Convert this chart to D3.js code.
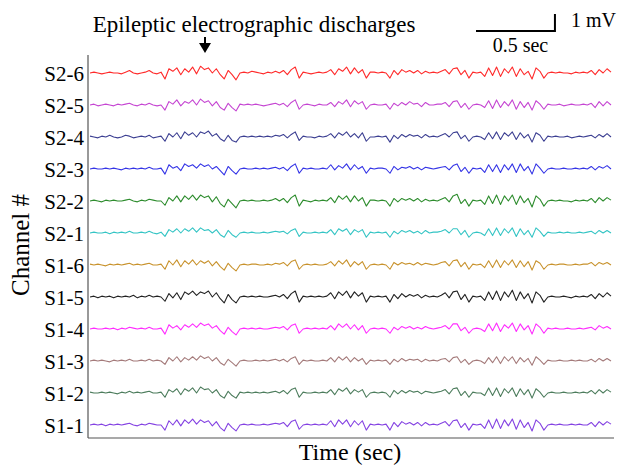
<!DOCTYPE html>
<html>
<head>
<meta charset="utf-8">
<script src="https://cdn.jsdelivr.net/npm/d3@7"></script>
<style>
  body { margin: 0; background: #fff; }
  text { font-family: "Liberation Serif", "Times New Roman", serif; fill: #000; }
</style>
</head>
<body>
<div id="chart"></div>
<script>
// channel names, top to bottom
const channels = ["S2-6", "S2-5", "S2-4", "S2-3", "S2-2", "S2-1",
                  "S1-6", "S1-5", "S1-4", "S1-3", "S1-2", "S1-1"];
const colors = ["#ff2a2a", "#c545d2", "#3c3f92", "#3434e6", "#2d8c2d", "#33c4c4",
                "#c8922c", "#222222", "#ff2cff", "#a47a7a", "#4c7c5c", "#8442e2"];

// sample spacing (sec) and trace amplitudes in units of 0.1 mV
const DT = 0.025;
const UNIT_MV = 0.1;

const s2_6 = [0,0.5,0,-0.5,0,0.5,0,0,-0.5,0.5,1.5,0,-0.5,0,0.5,1.5,0,-0.5,0.5,
  -3.5,2.5,1,3,-1,2.5,0.5,3.5,-0.5,4,2,3,0,2.5,-1,-3.5,1.5,-1,-4,0,
  0.5,0,1,0.5,0,-0.5,0.5,0,1,0, 1.5,-1,2,3.5,-3, 0.5,0,-0.5,0,0.5,0,0.5,
  2,-1,2.5,1,3.5,-0.5,3,0,2,-3,0.5, 0.5,0,0.5,0,
  -3,1.5,-1,2,0.5,1.5,0,1.5,-0.5,1,0, 0.5,0,1, 2,-0.5,2.5,3,-1,1.5,-3, 0.5,0,0.5,
  -2,3,-1.5,3.5,-2,2.5,0,3.5,-2,2.5,-1,1,-3.5,3,1,-3,
  0,0.5,0,0.5,0,0,-0.5,0.5,0,0.5,0, 1.5,-1,2,0,2.5,0.5];

const s2_5 = [0,0.5,-0.5,0,0.5,0,-0.5,0.5,0,0.5,1,0,-0.5,0.5,0,1,0,-0.5,0,
  -3,2,0.5,3,-0.5,2,1,3,0,3.5,1.5,2.5,-0.5,2,-1.5,-3,1,-1.5,-3.5,0.5,
  0,0.5,0,0.5,0,-0.5,0,0.5,1,0, 1,-1,1.5,3,-2.5, 0,0.5,0,-0.5,0.5,0,0,
  1.5,-1,2,0.5,3,-1,2.5,0.5,2,-2.5,0, 0.5,0,0,0.5,
  -2.5,1,-0.5,1.5,0,2,0.5,1,-1,1.5,0, 0,0.5,0.5, 1.5,-1,2,2.5,-1.5,1,-2.5, 0,0.5,0,
  -1.5,2.5,-2,3,-1.5,2,-0.5,3,-2.5,2,-1.5,1.5,-3,2.5,0.5,-2.5,
  0.5,0,0,0.5,-0.5,0,0.5,0,0,0.5,0, 1,-1.5,2,-0.5,2,0];

const s2_4 = [0.5,0,-0.5,0.5,0,1,0,-0.5,0,1,0.5,-0.5,0,0.5,0,1,-0.5,0,0.5,
  -2.5,2,0,2.5,-1,3,1,2.5,0,3,2,3.5,0.5,2,-1,-2.5,1,-2,-3,0,
  0.5,0,0.5,0,0.5,0,0.5,0,1,0.5, 1.5,-0.5,1.5,3,-2, 0.5,0,0,-0.5,0.5,0,0.5,
  2,-0.5,2.5,1,3,0,2,-0.5,2.5,-2.5,0, 0,0.5,0,0.5,
  -3,1,-1,1.5,0,1.5,0.5,1,-0.5,1.5,0, 0.5,0,1, 2,0,2.5,3,-1,1,-2.5, 0,0.5,0,
  -1.5,2.5,-1,3,-1.5,2.5,0.5,3,-1.5,2.5,-0.5,1.5,-3,2.5,1,-2.5,
  0.5,0,0.5,0,0,0.5,-0.5,0,0.5,0,0.5, 1,-0.5,1.5,0,2,0];

const s2_3 = [0,0.5,0,0,0.5,0,0.5,0,-0.5,0.5,0,0.5,0,0.5,0,1,0,0,0.5,
  -3,2.5,0.5,1.5,-1,3,1.5,2.5,0.5,3,1.5,2.5,0,1.5,-1,-3.5,1.5,-1,-3,0,
  0.5,0,0,0.5,0,0.5,0,0.5,1,0, 1,-1,1.5,3,-2.5, 0.5,0,0.5,0,0,0.5,0,
  2.5,-0.5,2,0.5,3,-0.5,2.5,0,1.5,-2.5,0.5, 0,0.5,0.5,0,
  -2.5,1.5,-0.5,1,0.5,1.5,0,1,-0.5,1,0.5, 0,0.5,1, 1.5,-0.5,2,3,-1.5,1,-2.5, 0.5,0,0.5,
  -2,2.5,-1.5,2.5,-2,2.5,-0.5,3,-2,3,-1,1.5,-3,3,0.5,-2.5,
  0,0.5,0,0,0.5,0,0,0.5,0,0.5,0, 1.5,-0.5,1.5,0.5,2,0];

const s2_2 = [0,0.5,0,-0.5,0.5,0,0.5,0,0,0.5,1,0,-0.5,0.5,0,1,0.5,0,0,
  -2.5,2,0,3,-0.5,3,1,3.5,0.5,3.5,2,3,-0.5,2.5,-1.5,-3.5,1,-1.5,-4,0,
  0.5,0,0.5,0,0,0.5,0,0.5,1.5,0, 1.5,-1,2,3.5,-3, 0.5,0,-0.5,0.5,0,0.5,0,
  2,-1,3,1,3,-0.5,3,0,2,-3,0.5, 0.5,0,0.5,0,
  -3,1.5,-0.5,1.5,0.5,1.5,0,1.5,-0.5,1,0, 0.5,0,1, 2,-0.5,3,4,-1.5,1,-3, 0.5,0,0.5,
  -2,3,-1.5,3.5,-2,3,0,3.5,-2,3,-1,1.5,-3.5,3,1,-3,
  0,0.5,0,0.5,0,0,-0.5,0.5,0,0.5,0, 1.5,-1,2,0,2,0.5];

const s2_1 = [0,0.5,0,0,0.5,-0.5,0.5,0,0.5,0,1,0,0,0.5,0,1,0,-0.5,0.5,
  -2,2,0.5,2.5,0,2.5,1,3,0.5,3,1.5,2,0,2,-1,-2.5,1.5,-1,-2.5,0,
  0.5,0,0.5,0,0,0.5,0,0.5,1,0.5, 1,-0.5,1.5,2.5,-2, 0.5,0,0,0.5,0,0.5,0,
  2,-1,2.5,1,2.5,-1,2,0.5,2,-2.5,0.5, 0,0.5,0,0.5,
  -2.5,1,-0.5,1.5,0.5,1.5,0,1,-0.5,1.5,0, 0.5,0.5,1, 2,0,2.5,2.5,-1,1.5,-2.5, 0,0.5,0,
  -1.5,2.5,-1.5,3,-1.5,2.5,0,3,-2,2.5,-1,1.5,-2.5,3,1,-2,
  0.5,0,0,0.5,0,0.5,0,0,0.5,0,0.5, 1,-0.5,1.5,0,1.5,0];

const s1_6 = [0.5,0,0.5,0,-0.5,0.5,0,0.5,0,0.5,1,0,0.5,0,0.5,1,0,0,0.5,
  -2.5,2.5,0,3,-1,2.5,0.5,3,0,2.5,1,2.5,-0.5,2,-1,-3,1,-1.5,-3.5,0,
  0.5,0,0.5,0.5,0,0,0.5,0,1,0.5, 1.5,-0.5,2,3,-2.5, 0,0.5,0,0.5,0,0,0.5,
  2,-0.5,2.5,0.5,3,-1,2,0,2,-2.5,0, 0.5,0,0.5,0,
  -2.5,1.5,0,1.5,0.5,1,0,1.5,0,1,0.5, 0,0.5,1.5, 2,-0.5,2.5,3,-1,1.5,-2.5, 0.5,0,0.5,
  -1.5,2.5,-1.5,3,-1.5,2.5,0,3,-1.5,2.5,-1,2,-3,2.5,1,-2.5,
  0,0.5,0,0.5,0.5,0,0,0.5,0,0.5,0.5, 1.5,-0.5,1.5,0.5,1.5,0];

const s1_5 = [0,0.5,-0.5,0.5,0,0.5,-0.5,0.5,0,0.5,0,1,-0.5,0.5,0,1,0,0.5,0,
  -2.5,2,-0.5,2.5,-1.5,3,1.5,3.5,1,3,2,3.5,0,2.5,-1,-3.5,1.5,-1.5,-3.5,0,
  0.5,0,0.5,0,0.5,0,0,0.5,1,0, 1.5,-1,2,3.5,-3, 0.5,0,0.5,0,0.5,0,0.5,
  2.5,-1,3,1,3.5,-0.5,3,0.5,2.5,-3,0.5, 0,0.5,0,0.5,
  -3,1.5,-1,2,0,1.5,0.5,1.5,-0.5,1,0, 0.5,0,1, 2.5,-0.5,3,3.5,-1.5,1.5,-3, 0.5,0,0.5,
  -2,3,-1.5,3.5,-2,3,0,4,-2,3,-1,2,-3.5,3,1,-3,
  0,0.5,0,0,0.5,0,-0.5,0.5,0,0.5,0, 1.5,-1,2,0,2.5,0.5];

const s1_4 = [0,0.5,0,0,0.5,0,0.5,-0.5,0.5,0,1,0.5,0,0.5,0,1,0,0,0.5,
  -3,2.5,0.5,2,-0.5,2.5,1,3,1,3.5,2,3,0.5,2,-1,-3,1,-1.5,-3.5,0,
  0.5,0,0.5,0,0.5,0,0,0.5,1,0.5, 1.5,-0.5,2,3,-2.5, 0,0.5,0,0.5,0,0.5,0,
  2,-0.5,3,1,3,0,2.5,-0.5,2,-2.5,0, 0.5,0,0.5,0,
  -2.5,1,-0.5,1.5,0.5,1.5,0,1,0,1.5,0.5, 0,0.5,1, 2,0,3,3,-1,1,-2.5, 0,0.5,0,
  -1.5,3,-1,3.5,-1.5,2.5,0.5,3.5,-1.5,3,-0.5,2,-3,3,1,-2.5,
  0.5,0,0.5,0,0,0.5,0,0,0.5,0,0.5, 1,-0.5,2,0.5,1.5,0];

const s1_3 = [0,0.5,0,0.5,0,-0.5,0.5,0,0.5,0,1,0,0,0.5,0,1,0,0.5,0,
  -2,2,0,2.5,-0.5,2,0.5,2.5,0.5,3,1.5,2.5,0,2,-1,-2.5,1,-1,-3,0,
  0.5,0,0,0.5,0,0.5,0,0.5,1,0, 1,-0.5,1.5,2.5,-2, 0.5,0,0.5,0,0,0.5,0,
  2,-0.5,2.5,0.5,2.5,-0.5,2,0,1.5,-2,0.5, 0,0.5,0,0.5,
  -2,1,-0.5,1.5,0,1,0.5,1,-0.5,1,0, 0.5,0,1, 1.5,-0.5,2,2.5,-1,1,-2, 0,0.5,0,
  -1.5,2,-1,2.5,-1.5,2.5,0,2.5,-1.5,2,-0.5,1.5,-2.5,2.5,0.5,-2,
  0.5,0,0,0.5,0,0,0.5,0,0.5,0,0, 1,-0.5,1.5,0,1.5,0];

const s1_2 = [0.5,0,0,0.5,0,0.5,0,-0.5,0.5,0,1,0,0.5,0,0.5,1,0,0,0.5,
  -2.5,2,0.5,2.5,-1,2.5,1,3,0,3.5,2,2.5,0,2,-1.5,-3,1,-1.5,-3,0.5,
  0,0.5,0,0.5,0,0.5,0,0.5,1,0, 1.5,-0.5,2,3,-2.5, 0.5,0,0,0.5,0,0.5,0,
  2,-1,2.5,1,3,-0.5,2,0.5,2,-2.5,0, 0.5,0,0.5,0,
  -2.5,1.5,-0.5,1.5,0,1.5,0.5,1,-0.5,1,0.5, 0,0.5,1, 2,-0.5,2.5,3,-1.5,1,-2.5, 0.5,0,0,
  -1.5,3,-1.5,3,-2,2.5,0,3,-2,2.5,-1,2,-3,2.5,0.5,-2.5,
  0,0.5,0,0,0.5,0,0,0.5,0,0.5,0, 1.5,-0.5,2,0,2,0.5];

const s1_1 = [0,0.5,0,0.5,-0.5,0.5,0,0.5,0,0.5,1,0,-0.5,0.5,0,1,0.5,0,0,
  -3,2.5,0,3,-0.5,3,1,3.5,0.5,3,1.5,2.5,-0.5,2,-1.5,-3.5,1,-1.5,-3.5,0,
  0.5,0,0.5,0,0,0.5,0,0.5,1,0.5, 1.5,-1,2,3,-2.5, 0,0.5,0,0.5,0,0.5,0,
  2.5,-1,3,0.5,3,-1,2.5,0,2.5,-3,0.5, 0,0.5,0,0.5,
  -3,1.5,-1,2,0.5,1.5,0,1.5,-0.5,1.5,0, 0.5,0,1, 2,-0.5,2.5,3,-1.5,1,-3, 0.5,0,0.5,
  -2,3,-2,3.5,-2,3,-0.5,3.5,-2.5,3,-1.5,1.5,-3.5,3,1,-3,
  0,0.5,0,0.5,0,0,0.5,0,0.5,0,0, 1.5,-1,2,0,2,0.5];

const traces = [s2_6, s2_5, s2_4, s2_3, s2_2, s2_1, s1_6, s1_5, s1_4, s1_3, s1_2, s1_1];

// scale bar values
const scaleBarSec = 0.5;
const scaleBarMv = 1;

const width = 622, height = 468;
const serif = "'Liberation Serif', 'Times New Roman', serif";

const svg = d3.select("#chart")
  .append("svg")
  .attr("width", width)
  .attr("height", height);

// time axis (sec) and channel positions
const x = d3.scaleLinear().domain([0, 3.3]).range([90, 611]);
const y = d3.scalePoint().domain(channels).range([73, 425]);
// amplitude in mV -> pixel offset from channel baseline
const amp = d3.scaleLinear().domain([-1, 1]).range([17, -17]);

// frame: left and bottom lines
svg.append("line")
  .attr("x1", 88).attr("x2", 88).attr("y1", 55).attr("y2", 438)
  .attr("stroke", "#555").attr("stroke-width", 1.2);
svg.append("line")
  .attr("x1", 88).attr("x2", 614).attr("y1", 438).attr("y2", 438)
  .attr("stroke", "#555").attr("stroke-width", 1.2);

// channel labels
const yAxis = svg.append("g")
  .attr("transform", "translate(86,0)")
  .call(d3.axisLeft(y).tickSize(0).tickPadding(2));
yAxis.select(".domain").remove();
yAxis.selectAll("text")
  .style("font-family", serif)
  .style("font-size", "21px")
  .attr("fill", "#000")
  .attr("dy", "0.35em");

// traces
const line = d3.line()
  .x((d, i) => x(i * DT))
  .y(d => amp(d * UNIT_MV));

channels.forEach((ch, k) => {
  svg.append("path")
    .datum(traces[k])
    .attr("transform", `translate(0,${y(ch)})`)
    .attr("fill", "none")
    .attr("stroke", colors[k])
    .attr("stroke-width", 1.1)
    .attr("stroke-linejoin", "round")
    .attr("d", line);
});

// axis titles
svg.append("text")
  .attr("x", 350).attr("y", 460)
  .attr("text-anchor", "middle")
  .style("font-family", serif)
  .style("font-size", "24px")
  .text("Time (sec)");

svg.append("text")
  .attr("transform", "translate(29,245) rotate(-90)")
  .attr("text-anchor", "middle")
  .style("font-family", serif)
  .style("font-size", "25px")
  .text("Channel #");

// annotation
svg.append("text")
  .attr("x", 254).attr("y", 32)
  .attr("text-anchor", "middle")
  .style("font-family", serif)
  .style("font-size", "23px")
  .text("Epileptic electrographic discharges");

svg.append("line")
  .attr("x1", 205).attr("x2", 205).attr("y1", 37).attr("y2", 45)
  .attr("stroke", "#000").attr("stroke-width", 2);
svg.append("path")
  .attr("d", "M199,43 L211,43 L205,53 Z")
  .attr("fill", "#000");

// scale bar
const barX0 = 476;
const barX1 = barX0 + (x(scaleBarSec) - x(0));
const barY = 31;
const barTop = barY - (amp(0) - amp(scaleBarMv));
svg.append("path")
  .attr("d", `M${barX0},${barY} L${barX1},${barY} L${barX1},${barTop}`)
  .attr("fill", "none")
  .attr("stroke", "#000")
  .attr("stroke-width", 2);

svg.append("text")
  .attr("x", barX1 + 16).attr("y", 27)
  .style("font-family", serif)
  .style("font-size", "20px")
  .text(scaleBarMv + " mV");

svg.append("text")
  .attr("x", (barX0 + barX1) / 2 + 5).attr("y", 52)
  .attr("text-anchor", "middle")
  .style("font-family", serif)
  .style("font-size", "20px")
  .text(scaleBarSec + " sec");
</script>
</body>
</html>
